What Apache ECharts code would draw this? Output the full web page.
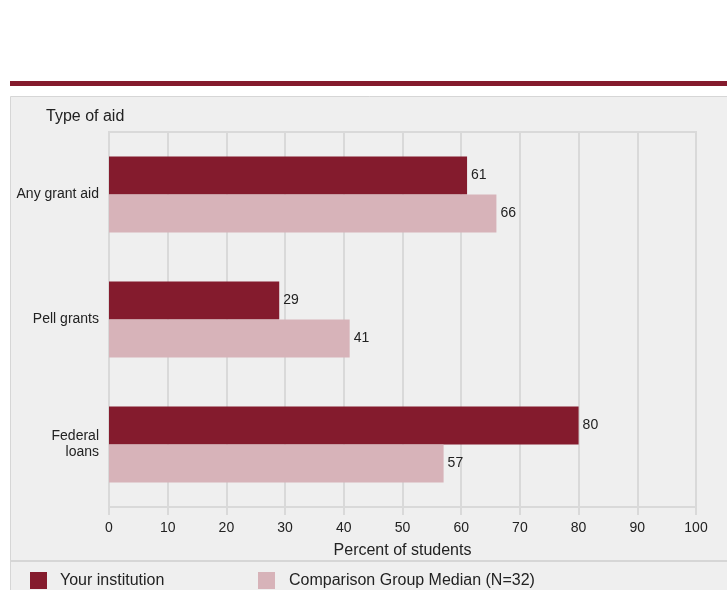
<!DOCTYPE html>
<html><head><meta charset="utf-8">
<script src="https://cdn.jsdelivr.net/npm/echarts@6/dist/echarts.min.js"></script>
<style>html,body{margin:0;padding:0;background:#fff}#c{width:727px;height:590px}</style>
</head><body><div id="c"></div>
<script>
const categories = ['Any grant aid', 'Pell grants', 'Federal\nloans'];
const yourInstitution = [61, 29, 80];
const comparisonMedian = [66, 41, 57];
const xTicks = [0, 10, 20, 30, 40, 50, 60, 70, 80, 90, 100];
const seriesNames = ['Your institution', 'Comparison Group Median (N=32)'];

const chart = echarts.init(document.getElementById('c'), null, {renderer: 'canvas'});
const font = 'Liberation Sans, Arial, sans-serif';
const labelCfg = {show: true, position: 'right', distance: 4, color: '#222', fontSize: 14, fontFamily: font};
chart.setOption({
  backgroundColor: '#fff',
  animation: false,
  textStyle: {fontFamily: font},
  graphic: [
    {type: 'rect', shape: {x: 10, y: 81, width: 717, height: 5}, style: {fill: '#841b2d'}, z: -10},
    {type: 'rect', shape: {x: 10.5, y: 96.5, width: 720, height: 500}, style: {fill: '#efefef', stroke: '#d6d6d6', lineWidth: 1}, z: -10},
    {type: 'rect', shape: {x: 11, y: 560, width: 716, height: 2}, style: {fill: '#d6d6d6'}, z: -9},
    {type: 'text', left: 46, top: 109, style: {text: 'Type of aid', fontSize: 16, fill: '#222', fontFamily: font}}
  ],
  legend: [
    {data: [seriesNames[0]], left: 30, top: 572, padding: 0, itemWidth: 17, itemHeight: 17, icon: 'rect',
     textStyle: {fontSize: 16, color: '#222', fontFamily: font, padding: [4, 0, 0, 8]}},
    {data: [seriesNames[1]], left: 258, top: 572, padding: 0, itemWidth: 17, itemHeight: 17, icon: 'rect',
     textStyle: {fontSize: 16, color: '#222', fontFamily: font, padding: [4, 0, 0, 9]}}
  ],
  grid: {left: 109, right: 31, top: 132, bottom: 83, show: true, borderColor: '#d9d9d9', borderWidth: 2, backgroundColor: 'transparent'},
  xAxis: {
    type: 'value', min: xTicks[0], max: xTicks[xTicks.length - 1], interval: 10,
    name: 'Percent of students', nameLocation: 'middle', nameGap: 36,
    nameTextStyle: {fontSize: 16, color: '#222', fontFamily: font},
    axisLine: {show: true, lineStyle: {color: '#d9d9d9', width: 2}},
    axisTick: {show: true, length: 8, lineStyle: {color: '#d9d9d9', width: 2}},
    axisLabel: {color: '#222', fontSize: 14, margin: 14, fontFamily: font},
    splitLine: {show: true, lineStyle: {color: '#d9d9d9', width: 2}}
  },
  yAxis: {
    type: 'category', data: categories, inverse: true,
    axisLine: {show: true, lineStyle: {color: '#d9d9d9', width: 2}},
    axisTick: {show: false},
    axisLabel: {color: '#222', fontSize: 14, margin: 10, align: 'right', lineHeight: 16, fontFamily: font}
  },
  series: [
    {name: seriesNames[0], type: 'bar', data: yourInstitution, barWidth: 38, barGap: '0%',
     itemStyle: {color: '#841b2d'}, label: labelCfg},
    {name: seriesNames[1], type: 'bar', data: comparisonMedian, barWidth: 38, barGap: '0%',
     itemStyle: {color: '#d7b3b9'}, label: labelCfg}
  ]
});
</script></body></html>
